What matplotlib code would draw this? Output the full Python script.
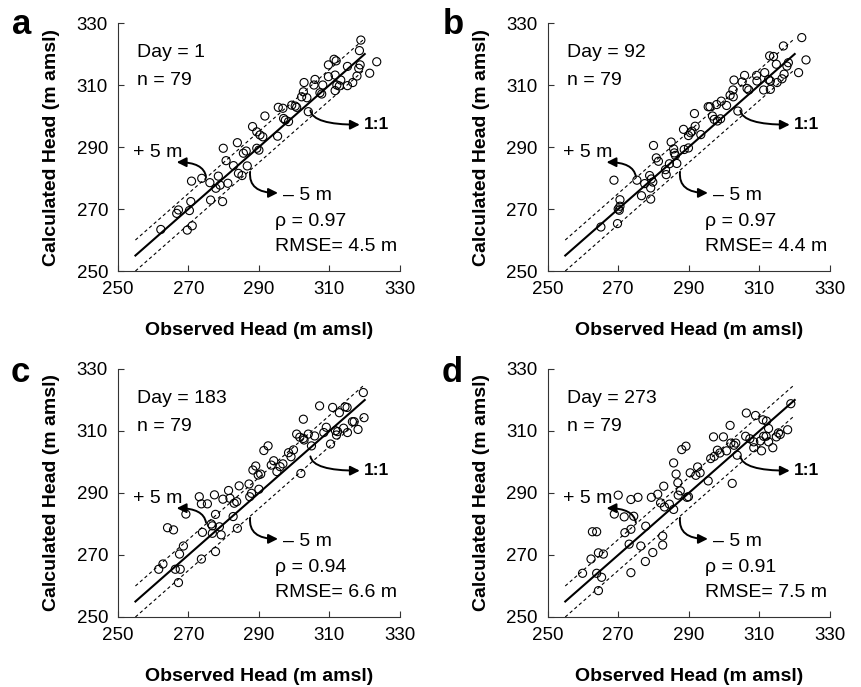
import matplotlib
matplotlib.use("Agg")
import matplotlib.pyplot as plt

plt.rcParams['font.family'] = ['Liberation Sans', 'DejaVu Sans']

# panel a, Day = 1
obs_a = [262.2, 269.7, 271.1, 270.3, 270.7, 267.2, 266.7, 270.9, 273.8, 276.1,
         276.3, 279.7, 277.8, 279.0, 278.5, 281.2, 280.7, 279.9, 282.8, 284.2,
         285.2, 283.9, 285.6, 286.4, 286.7, 289.4, 290.0, 288.2, 289.4, 290.3,
         291.1, 291.7, 295.3, 295.5, 296.8, 297.0, 297.5, 298.4, 299.3, 300.3,
         300.7, 302.1, 302.6, 303.6, 302.8, 304.0, 305.9, 305.6, 307.3, 307.8,
         308.1, 309.7, 309.7, 311.3, 311.9, 311.6, 312.1, 311.6, 312.8, 313.2,
         315.1, 315.1, 316.6, 317.8, 318.3, 318.7, 318.5, 318.9, 321.4, 323.4]
calc_a = [263.4, 263.2, 264.6, 269.5, 272.4, 269.7, 268.6, 279.0, 279.9, 278.5,
          272.9, 272.4, 276.7, 277.7, 280.6, 278.3, 285.6, 289.6, 284.0, 281.5,
          280.8, 291.4, 288.0, 288.7, 283.9, 289.6, 289.0, 296.6, 294.9, 293.9,
          293.3, 300.0, 293.5, 302.8, 302.5, 299.2, 298.7, 298.2, 303.5, 303.2,
          302.8, 306.2, 307.8, 305.9, 310.8, 301.4, 311.8, 310.0, 307.5, 307.1,
          310.0, 316.5, 312.7, 318.3, 317.8, 313.2, 310.0, 308.2, 309.7, 311.6,
          316.0, 309.8, 310.8, 312.9, 315.4, 316.5, 321.1, 324.5, 313.8, 317.5]

# panel b, Day = 92
obs_b = [265.1, 269.8, 270.0, 270.5, 270.3, 270.5, 268.8, 275.3, 276.6, 277.5,
         278.9, 279.4, 279.2, 279.2, 279.8, 280.0, 280.8, 281.4, 283.4, 283.6,
         284.5, 285.0, 285.7, 285.9, 286.6, 286.2, 288.5, 288.7, 289.9, 289.9,
         290.5, 290.9, 291.6, 291.8, 293.4, 295.5, 296.0, 296.7, 297.2, 298.1,
         299.0, 297.9, 299.2, 300.7, 301.7, 302.6, 302.5, 302.8, 303.9, 305.1,
         305.8, 306.5, 307.0, 309.2, 309.3, 311.2, 311.5, 312.6, 313.1, 312.9,
         314.0, 314.8, 315.0, 316.4, 317.0, 317.8, 318.2, 316.8, 321.1, 322.0,
         323.2, 313.1]
calc_b = [264.2, 265.3, 270.0, 270.9, 269.6, 273.0, 279.3, 279.3, 274.3, 278.2,
          280.8, 279.7, 276.8, 273.2, 278.7, 290.5, 286.5, 285.4, 282.7, 281.1,
          284.6, 291.6, 289.4, 288.1, 284.7, 287.3, 295.7, 289.2, 289.7, 293.7,
          294.6, 295.1, 300.8, 296.7, 294.0, 303.0, 303.0, 300.0, 298.9, 298.4,
          299.1, 303.7, 304.8, 303.4, 306.7, 306.2, 308.4, 311.6, 301.6, 311.0,
          313.1, 308.9, 308.4, 313.1, 311.3, 308.4, 314.0, 311.8, 311.3, 319.4,
          319.2, 316.7, 310.8, 312.0, 313.5, 316.1, 317.2, 322.6, 314.0, 325.3,
          318.1, 308.6]

# panel c, Day = 183
obs_c = [261.6, 262.8, 264.1, 265.8, 266.3, 267.7, 267.2, 267.5, 268.6, 269.3,
         273.7, 274.0, 276.5, 276.8, 276.8, 277.7, 277.7, 273.1, 273.7, 275.4,
         277.4, 278.8, 279.3, 279.8, 281.4, 281.8, 282.7, 283.0, 283.7, 283.9,
         284.4, 287.2, 287.4, 287.9, 288.3, 289.1, 289.8, 290.0, 290.5, 291.4,
         292.6, 293.5, 294.2, 295.1, 296.0, 296.8, 298.4, 299.1, 299.8, 301.9,
         302.6, 300.7, 301.6, 302.6, 302.8, 304.0, 304.9, 305.8, 307.2, 308.4,
         309.1, 310.3, 310.9, 312.8, 312.3, 311.7, 312.0, 314.0, 314.4, 315.0,
         315.1, 316.5, 317.0, 318.1, 319.6, 319.8]
calc_c = [265.4, 267.1, 278.8, 278.1, 265.4, 265.4, 261.1, 270.3, 272.9, 283.2,
          268.7, 277.3, 280.0, 279.4, 277.0, 283.1, 271.1, 288.8, 286.5, 286.5,
          289.4, 279.1, 276.5, 288.0, 290.8, 288.3, 282.4, 286.7, 287.2, 278.6,
          292.3, 292.9, 288.8, 289.9, 297.4, 298.7, 295.8, 291.2, 296.1, 303.7,
          305.2, 299.0, 300.4, 296.9, 298.5, 299.4, 303.0, 301.7, 303.9, 296.3,
          313.8, 309.0, 308.0, 307.6, 307.1, 309.0, 305.2, 308.4, 318.1, 309.5,
          311.2, 305.8, 317.6, 315.9, 309.8, 310.1, 308.7, 310.9, 317.8, 317.6,
          309.5, 313.0, 313.0, 310.5, 322.4, 314.3]

# panel d, Day = 273
obs_d = [259.9, 262.3, 262.7, 263.9, 263.9, 264.4, 264.4, 265.3, 265.8, 268.9,
         270.0, 271.7, 271.9, 273.1, 273.6, 273.6, 273.6, 274.4, 275.6, 276.4,
         277.7, 277.8, 279.4, 279.8, 281.2, 282.0, 282.6, 282.6, 282.9, 283.1,
         284.5, 285.7, 285.7, 286.4, 286.9, 287.0, 287.6, 288.0, 289.2, 289.5,
         289.9, 290.4, 292.0, 292.5, 293.2, 295.5, 296.2, 297.0, 297.2, 298.1,
         298.8, 299.8, 300.7, 301.7, 301.9, 302.3, 302.8, 303.3, 303.7, 306.1,
         306.3, 307.3, 308.4, 308.9, 308.4, 310.3, 310.6, 311.0, 311.2, 311.9,
         312.0, 312.6, 312.6, 313.8, 314.8, 315.4, 315.9, 318.0, 318.9]
calc_d = [264.1, 268.7, 277.5, 277.5, 264.1, 270.7, 258.5, 262.8, 270.3, 283.2,
          289.3, 282.3, 277.2, 273.5, 264.3, 278.3, 287.9, 282.5, 288.6, 272.9,
          267.9, 279.3, 288.6, 270.8, 289.6, 286.8, 276.1, 273.2, 292.2, 285.5,
          286.4, 284.7, 299.7, 296.1, 293.3, 289.3, 290.7, 304.0, 305.1, 288.6,
          288.8, 296.5, 295.7, 298.4, 296.5, 293.9, 301.1, 308.1, 301.8, 303.8,
          302.9, 308.1, 303.6, 311.8, 306.1, 293.1, 305.4, 306.1, 302.2, 308.3,
          315.8, 307.5, 306.5, 315.0, 304.6, 306.8, 303.6, 313.6, 308.3, 308.3,
          313.2, 310.8, 306.5, 304.6, 308.1, 309.4, 308.9, 310.4, 318.8]

letters = ['a', 'b', 'c', 'd']
days = [1, 92, 183, 273]
n_obs = [79, 79, 79, 79]
rho = [0.97, 0.97, 0.94, 0.91]
rmse = [4.5, 4.4, 6.6, 7.5]
obs_all = [obs_a, obs_b, obs_c, obs_d]
calc_all = [calc_a, calc_b, calc_c, calc_d]

ticks = [250, 270, 290, 310, 330]

fig = plt.figure(figsize=(8.61, 6.87), dpi=100)
positions = [[0.1368, 0.6055, 0.3278, 0.361],
             [0.636, 0.6055, 0.328, 0.361],
             [0.1368, 0.1019, 0.3278, 0.361],
             [0.636, 0.1019, 0.328, 0.361]]
letter_xy = [(0.025, 0.951), (0.526, 0.951), (0.024, 0.444), (0.525, 0.444)]

arrow_kw = dict(arrowstyle='-|>', color='k', lw=1.4, mutation_scale=14,
                shrinkA=0, shrinkB=0)

for i in range(4):
    ax = fig.add_axes(positions[i])
    ax.set_xlim(250, 330)
    ax.set_ylim(250, 330)
    ax.set_xticks(ticks)
    ax.set_yticks(ticks)
    ax.spines['top'].set_visible(False)
    ax.spines['right'].set_visible(False)
    for s in ['left', 'bottom']:
        ax.spines[s].set_linewidth(0.8)
        ax.spines[s].set_color('#333333')
    ax.tick_params(direction='in', length=4, width=0.8, labelsize=13.5, pad=7,
                   color='#333333')

    # 1:1 and +/-5 m lines
    ax.plot([255, 320], [255, 320], color='k', lw=1.5)
    ax.plot([255, 320], [260, 325], color='k', lw=0.8, ls=(0, (3, 2.5)))
    ax.plot([255, 320], [250, 315], color='k', lw=0.8, ls=(0, (3, 2.5)))

    ax.scatter(obs_all[i], calc_all[i], s=34, facecolors='none',
               edgecolors='k', linewidths=0.8, zorder=3)

    ax.set_xlabel('Observed Head (m amsl)', fontsize=14, fontweight='bold')
    ax.set_ylabel('Calculated Head (m amsl)', fontsize=14, fontweight='bold')
    ax.xaxis.set_label_coords(0.5, -0.205)
    ax.yaxis.set_label_coords(-0.205, 0.5)

    ax.text(0.067, 0.88, 'Day = %d' % days[i], transform=ax.transAxes,
            fontsize=14, va='center')
    ax.text(0.067, 0.77, 'n = %d' % n_obs[i], transform=ax.transAxes,
            fontsize=14, va='center')
    ax.text(0.557, 0.20, '\u03c1 = %.2f' % rho[i], transform=ax.transAxes,
            fontsize=14, va='center')
    ax.text(0.557, 0.10, 'RMSE= %.1f m' % rmse[i], transform=ax.transAxes,
            fontsize=14, va='center')

    # arrows and labels
    ax.annotate('', xy=(318.6, 297.2), xytext=(304.6, 301.8),
                arrowprops=dict(connectionstyle='angle3,angleA=-80,angleB=0',
                                **arrow_kw))
    ax.text(319.8, 297.2, '1:1', fontsize=12.5, fontweight='bold', va='center')

    ax.annotate('', xy=(266.7, 285.1), xytext=(275.0, 280.5),
                arrowprops=dict(connectionstyle='angle3,angleA=100,angleB=0',
                                **arrow_kw))
    ax.text(254.3, 288.3, '+ 5 m', fontsize=14, va='center')

    ax.annotate('', xy=(295.4, 275.2), xytext=(287.5, 282.0),
                arrowprops=dict(connectionstyle='angle3,angleA=-95,angleB=0',
                                **arrow_kw))
    ax.text(296.8, 274.2, '\u2013 5 m', fontsize=14, va='center')

    fig.text(letter_xy[i][0], letter_xy[i][1], letters[i], fontsize=25,
             fontweight='bold', ha='center', va='baseline')

fig.savefig('out.png', dpi=100)
